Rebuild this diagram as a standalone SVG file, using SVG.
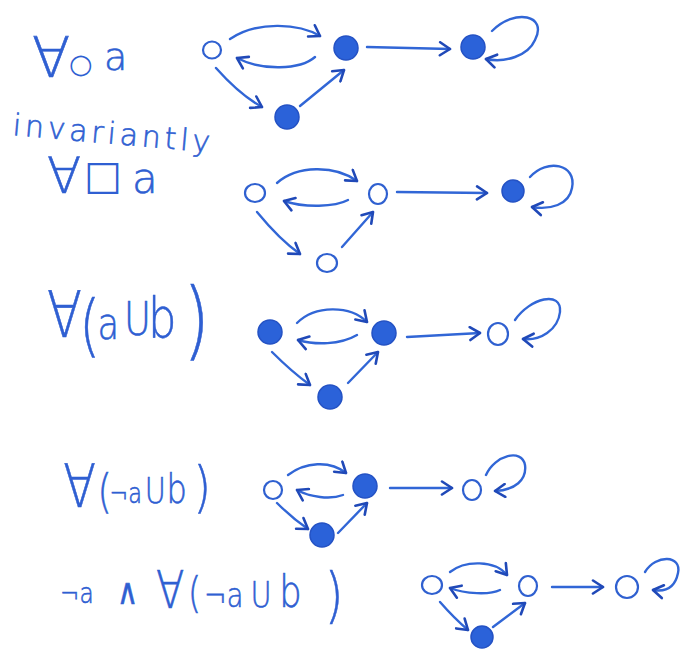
<svg xmlns="http://www.w3.org/2000/svg" width="683" height="651" viewBox="0 0 683 651">
<defs>
<style>
.t{font-family:"DejaVu Sans","Liberation Sans",sans-serif;font-weight:200;fill:#2f5fd2;stroke:#2f5fd2;stroke-width:0.6;}
.r{font-weight:400;stroke:none;}
.e{fill:none;stroke:#3166d6;stroke-width:2.4;stroke-linecap:round;marker-end:url(#ah);}
.f{fill:#2b62d9;stroke:#2452c4;stroke-width:1.5;}
.h{fill:none;stroke:#2f60d0;stroke-width:2.2;}
</style>
<marker id="ah" markerUnits="userSpaceOnUse" markerWidth="16" markerHeight="16" refX="13" refY="8" orient="auto">
<path d="M3,1.5 L13,8 L3,14.5" fill="none" stroke="#2049b8" stroke-width="2.6" stroke-linecap="round" stroke-linejoin="round"/>
</marker>
</defs>
<rect width="683" height="651" fill="#ffffff"/>

<g id="labels">
<text class="t" y="77"><tspan x="32" font-size="56">∀</tspan><tspan class="r" x="69" y="73" font-size="27">○</tspan><tspan x="104" y="70" font-size="38">a</tspan></text>
<text class="t" x="12" y="135" font-size="30" textLength="198" lengthAdjust="spacing" transform="rotate(5 12 135)">invariantly</text>
<text class="t" y="193"><tspan x="47" font-size="50">∀</tspan><tspan class="r" x="84" y="189" font-size="40">□</tspan><tspan x="132" y="193" font-size="42">a</tspan></text>
<text class="t" transform="scale(0.8 1)" y="337"><tspan x="58.75" font-size="64">∀</tspan><tspan x="99" y="349" font-size="67">(</tspan><tspan x="122" y="339" font-size="44">a</tspan><tspan x="155" y="335" font-size="46">U</tspan><tspan x="185" y="337" font-size="56">b</tspan><tspan x="229" y="349" font-size="85">)</tspan></text>
<text class="t" transform="scale(0.8 1)" y="507"><tspan x="79" font-size="60">∀</tspan><tspan x="122" y="507" font-size="46">(</tspan><tspan x="137" y="503" font-size="28">¬a</tspan><tspan x="181" y="503" font-size="36">U</tspan><tspan x="208" y="503" font-size="40">b</tspan><tspan x="242" y="506" font-size="56">)</tspan></text>
<text class="t" transform="scale(0.8 1)" y="603"><tspan x="75" font-size="29">¬a</tspan><tspan x="146" y="604" font-size="36">∧</tspan><tspan x="195" y="608" font-size="52">∀</tspan><tspan x="235" y="608" font-size="42">(</tspan><tspan x="255" y="607" font-size="34">¬a</tspan><tspan x="313" y="607" font-size="36">U</tspan><tspan x="349" y="607" font-size="44">b</tspan><tspan x="406" y="616" font-size="60">)</tspan></text>
</g>

<g id="connectors">
<!-- graph 1 -->
<path class="e" d="M230,39 C258,20 300,24 320,36"/>
<path class="e" d="M315,57 C300,70 262,71 237,58"/>
<path class="e" d="M216,68 Q240,95 262,107"/>
<path class="e" d="M300,106 L344,70"/>
<path class="e" d="M367,47 L450,49"/>
<path class="e" d="M492,31 C515,8 548,15 535,40 C528,56 505,63 486,59"/>
<!-- graph 2 -->
<path class="e" d="M277,183 C297,165 335,165 357,181"/>
<path class="e" d="M348,200 C335,207 305,208 284,201"/>
<path class="e" d="M257,212 Q280,240 300,254"/>
<path class="e" d="M342,247 L373,212"/>
<path class="e" d="M397,192 L487,193"/>
<path class="e" d="M530,177 C547,158 577,164 572,188 C569,205 550,210 532,207"/>
<!-- graph 3 -->
<path class="e" d="M297,323 C315,305 350,305 367,322"/>
<path class="e" d="M357,335 C340,345 315,345 298,340"/>
<path class="e" d="M272,352 Q292,372 310,385"/>
<path class="e" d="M348,383 L378,352"/>
<path class="e" d="M407,337 L480,333"/>
<path class="e" d="M515,320 C530,298 562,290 560,312 C558,330 540,341 523,339"/>
<!-- graph 4 -->
<path class="e" d="M288,475 C305,462 330,460 346,473"/>
<path class="e" d="M343,495 C330,500 310,497 297,490"/>
<path class="e" d="M277,503 Q292,518 308,529"/>
<path class="e" d="M338,533 L367,503"/>
<path class="e" d="M390,488 L452,488"/>
<path class="e" d="M486,475 C495,455 522,448 525,465 C527,480 515,490 495,491"/>
<!-- graph 5 -->
<path class="e" d="M450,572 C465,560 495,560 507,575"/>
<path class="e" d="M500,590 C490,595 465,594 450,588"/>
<path class="e" d="M440,602 Q454,618 468,630"/>
<path class="e" d="M493,627 L525,603"/>
<path class="e" d="M552,587 L603,587"/>
<path class="e" d="M645,572 C656,554 682,555 678,573 C675,588 665,592 653,590"/>
</g>

<g id="g1-s0"><ellipse class="h" cx="212" cy="50" rx="9" ry="8.5"/></g>
<g id="g1-s1"><circle class="f" cx="346" cy="48" r="12"/></g>
<g id="g1-s2"><circle class="f" cx="473" cy="47" r="12"/></g>
<g id="g1-s3"><circle class="f" cx="287" cy="117" r="12"/></g>

<g id="g2-s0"><ellipse class="h" cx="255" cy="193" rx="10" ry="9"/></g>
<g id="g2-s1"><ellipse class="h" cx="378" cy="194" rx="9" ry="10"/></g>
<g id="g2-s2"><circle class="f" cx="513" cy="191" r="11"/></g>
<g id="g2-s3"><ellipse class="h" cx="327" cy="263" rx="10" ry="9"/></g>

<g id="g3-s0"><circle class="f" cx="270" cy="332" r="12"/></g>
<g id="g3-s1"><circle class="f" cx="384" cy="333" r="12"/></g>
<g id="g3-s2"><ellipse class="h" cx="498" cy="334" rx="10" ry="11"/></g>
<g id="g3-s3"><circle class="f" cx="330" cy="397" r="12"/></g>

<g id="g4-s0"><ellipse class="h" cx="273" cy="490" rx="9" ry="9"/></g>
<g id="g4-s1"><circle class="f" cx="365" cy="486" r="12"/></g>
<g id="g4-s2"><ellipse class="h" cx="472" cy="490" rx="9" ry="10"/></g>
<g id="g4-s3"><circle class="f" cx="322" cy="535" r="12"/></g>

<g id="g5-s0"><ellipse class="h" cx="432" cy="585" rx="10" ry="9"/></g>
<g id="g5-s1"><ellipse class="h" cx="528" cy="586" rx="9" ry="10"/></g>
<g id="g5-s2"><ellipse class="h" cx="627" cy="587" rx="11" ry="11"/></g>
<g id="g5-s3"><circle class="f" cx="482" cy="637" r="11"/></g>
</svg>
